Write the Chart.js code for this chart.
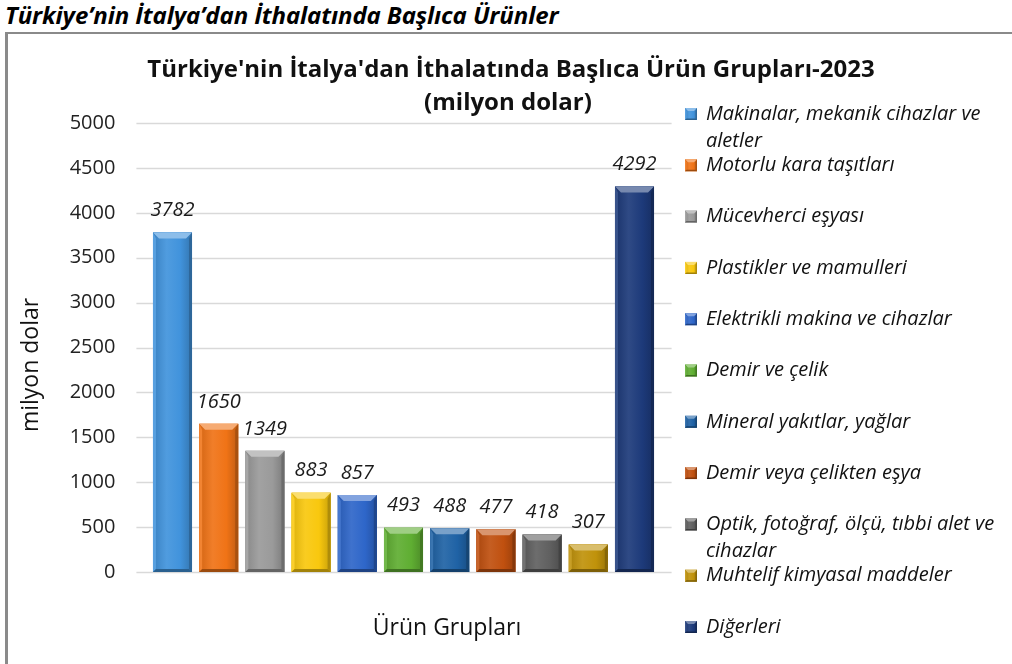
<!DOCTYPE html>
<html><head><meta charset="utf-8">
<script src="https://cdn.jsdelivr.net/npm/chart.js@4.4.0/dist/chart.umd.min.js"></script>
<style>
html,body{margin:0;padding:0;background:#fff;}
#wrap{position:relative;width:1012px;height:664px;overflow:hidden;background:#fff;}
#pt{position:absolute;left:5px;top:-2px;font:italic bold 24px "Open Sans", sans-serif;color:#000;white-space:nowrap;letter-spacing:-0.1px;}
#box{position:absolute;left:5px;top:32px;width:1100px;height:700px;border-left:3px solid #8a8a8a;border-top:2px solid #8a8a8a;box-sizing:border-box;}
canvas{position:absolute;left:0;top:0;}
</style></head><body>
<div id="wrap"><div id="pt">Türkiye’nin İtalya’dan İthalatında Başlıca Ürünler</div><div id="box"></div><canvas id="c" width="1012" height="664"></canvas></div>
<script>
const categories = [
  "Makinalar, mekanik cihazlar ve aletler",
  "Motorlu kara taşıtları",
  "Mücevherci eşyası",
  "Plastikler ve mamulleri",
  "Elektrikli makina ve cihazlar",
  "Demir ve çelik",
  "Mineral yakıtlar, yağlar",
  "Demir veya çelikten eşya",
  "Optik, fotoğraf, ölçü, tıbbi alet ve cihazlar",
  "Muhtelif kimyasal maddeler",
  "Diğerleri"
];
const values = [3782, 1650, 1349, 883, 857, 493, 488, 477, 418, 307, 4292];
const barColors = ["#4193dc","#f07316","#9a9a9a","#f9c80e","#2e66c9","#5fae32","#1f62a5","#c0500f","#606060","#c0920a","#1d3a7a"];
const yMin = 0, yMax = 5000, yStep = 500;
const chartTitle = ["Türkiye'nin İtalya'dan İthalatında Başlıca Ürün Grupları-2023", "(milyon dolar)"];
const yAxisTitle = "milyon dolar";
const xAxisTitle = "Ürün Grupları";

const FONT = "'Open Sans', sans-serif";

function shade(hex, f) {
  const n = parseInt(hex.slice(1), 16);
  let r = (n >> 16) & 255, g = (n >> 8) & 255, b = n & 255;
  if (f >= 0) { r = r + (255 - r) * f; g = g + (255 - g) * f; b = b + (255 - b) * f; }
  else { r = r * (1 + f); g = g * (1 + f); b = b * (1 + f); }
  return `rgb(${Math.round(r)},${Math.round(g)},${Math.round(b)})`;
}

function bevel(ctx, l, t, r, btm, color, b) {
  const w = r - l;
  const g = ctx.createLinearGradient(l, 0, r, 0);
  g.addColorStop(0, shade(color, -0.12));
  g.addColorStop(0.35, shade(color, 0.08));
  g.addColorStop(0.7, color);
  g.addColorStop(1, shade(color, -0.2));
  ctx.fillStyle = g;
  ctx.fillRect(l, t, w, btm - t);
  ctx.fillStyle = shade(color, 0.4);
  ctx.beginPath(); ctx.moveTo(l, t); ctx.lineTo(r, t); ctx.lineTo(r - b, t + b); ctx.lineTo(l + b, t + b); ctx.closePath(); ctx.fill();
  ctx.fillStyle = shade(color, 0.12);
  ctx.beginPath(); ctx.moveTo(l, t); ctx.lineTo(l + b * 0.5, t + b); ctx.lineTo(l + b * 0.5, btm - b * 0.5); ctx.lineTo(l, btm); ctx.closePath(); ctx.fill();
  ctx.fillStyle = shade(color, -0.3);
  ctx.beginPath(); ctx.moveTo(r, t); ctx.lineTo(r - b * 0.5, t + b); ctx.lineTo(r - b * 0.5, btm - b * 0.5); ctx.lineTo(r, btm); ctx.closePath(); ctx.fill();
  ctx.fillStyle = shade(color, -0.35);
  ctx.beginPath(); ctx.moveTo(l, btm); ctx.lineTo(r, btm); ctx.lineTo(r - b * 0.5, btm - b * 0.5); ctx.lineTo(l + b * 0.5, btm - b * 0.5); ctx.closePath(); ctx.fill();
}

function wrapText(ctx, text, maxW) {
  const words = text.split(" ");
  const lines = []; let cur = "";
  for (const w of words) {
    const test = cur ? cur + " " + w : w;
    if (ctx.measureText(test).width > maxW && cur) { lines.push(cur); cur = w; }
    else cur = test;
  }
  if (cur) lines.push(cur);
  return lines;
}

const decor = {
  id: "decor",
  beforeDatasetsDraw(chart) {
    const ctx = chart.ctx, ys = chart.scales.y, a = chart.chartArea;
    ctx.save();
    ctx.strokeStyle = "#d9d9d9"; ctx.lineWidth = 1.5;
    for (const tk of ys.ticks) {
      const py = Math.round(ys.getPixelForValue(tk.value)) + 0.5;
      ctx.beginPath(); ctx.moveTo(a.left - 13, py); ctx.lineTo(a.right + 14, py); ctx.stroke();
    }
    ctx.restore();
  },
  afterDatasetsDraw(chart) {
    const ctx = chart.ctx;
    const meta = chart.getDatasetMeta(0);
    ctx.save();
    meta.data.forEach((el, i) => {
      const l = el.x - el.width / 2, r = el.x + el.width / 2;
      bevel(ctx, l, el.y, r, el.base, barColors[i], 6);
      ctx.fillStyle = "#1a1a1a";
      ctx.font = `italic 20px ${FONT}`;
      ctx.textAlign = "center"; ctx.textBaseline = "middle";
      ctx.fillText(String(values[i]), el.x, el.y - 22);
    });
    ctx.fillStyle = "#111";
    ctx.font = `bold 24px ${FONT}`;
    ctx.textAlign = "center"; ctx.textBaseline = "middle";
    ctx.fillText(chartTitle[0], 511, 70);
    ctx.fillText(chartTitle[1], 508, 103);
    ctx.font = `23px ${FONT}`;
    ctx.fillStyle = "#111";
    ctx.fillText(xAxisTitle, 447, 628);
    ctx.save();
    ctx.translate(31, 365); ctx.rotate(-Math.PI / 2);
    ctx.fillText(yAxisTitle, 0, 0);
    ctx.restore();
    ctx.textAlign = "left";
    ctx.font = `italic 20px ${FONT}`;
    categories.forEach((c, i) => {
      const yy = 114 + i * 51.3;
      bevel(ctx, 685, yy - 6, 697, yy + 6, barColors[i], 3);
      ctx.fillStyle = "#111";
      const lines = wrapText(ctx, c, 1008 - 706);
      lines.forEach((ln, k) => ctx.fillText(ln, 706, yy + k * 27));
    });
    ctx.restore();
  }
};

new Chart(document.getElementById("c"), {
  type: "bar",
  data: {
    labels: categories,
    datasets: [{ data: values, backgroundColor: barColors, borderWidth: 0, barPercentage: 0.845, categoryPercentage: 1 }]
  },
  options: {
    responsive: false,
    animation: false,
    devicePixelRatio: 1,
    layout: { padding: { left: 0, top: 123, right: 1012 - 657.6, bottom: 0 } },
    plugins: { legend: { display: false }, tooltip: { enabled: false }, title: { display: false } },
    scales: {
      x: {
        grid: { display: false }, border: { display: false },
        ticks: { display: false },
        afterFit: s => { s.height = 92; }
      },
      y: {
        min: yMin, max: yMax,
        ticks: { stepSize: yStep, padding: 34, color: "#222", font: { family: FONT, size: 20 },
                 callback: v => String(v) },
        grid: { display: false, drawTicks: false }, border: { display: false },
        afterFit: s => { s.width = 149.4; }
      }
    }
  },
  plugins: [decor]
});
</script>
</body></html>
